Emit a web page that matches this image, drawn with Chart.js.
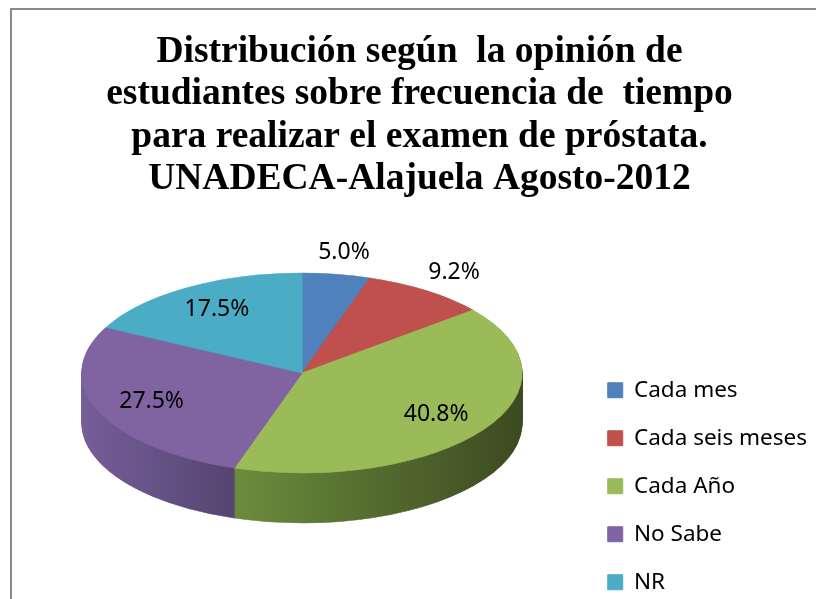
<!DOCTYPE html>
<html>
<head>
<meta charset="utf-8">
<script src="https://cdn.jsdelivr.net/npm/chart.js@4/dist/chart.umd.min.js"></script>
<style>
  html, body { margin: 0; padding: 0; background: #fff; }
  #wrap { position: relative; width: 816px; height: 599px; }
  #frame { position: absolute; left: 10px; top: 8px; right: 0; bottom: 0;
           border-left: 2px solid #898989; border-top: 2px solid #898989; }
  #pieChart { position: absolute; left: 0; top: 0; }
</style>
</head>
<body>
<div id="wrap">
  <div id="frame"></div>
  <canvas id="pieChart" width="816" height="599"></canvas>
</div>
<script>
// data (respondents, n = 120)
var categories = ['Cada mes', 'Cada seis meses', 'Cada Año', 'No Sabe', 'NR'];
var counts = [6, 11, 49, 33, 21];
var topColors = ['#4F81BD', '#C0504D', '#9BBB59', '#8064A2', '#4BACC6'];
// side wall shading, [left, right]
var sideColors = [['#3d6594', '#2e4c70'], ['#99403d', '#72302d'], ['#6c8c3c', '#3c4a21'],
                  ['#765e99', '#554470'], ['#3a8aa0', '#2b6778']];
var titleLines = ['Distribución según  la opinión de',
                  'estudiantes sobre frecuencia de  tiempo',
                  'para realizar el examen de próstata.',
                  'UNADECA-Alajuela Agosto-2012'];

var total = counts.reduce(function (a, b) { return a + b; }, 0);

// where the tilted pie ends up on the page
var CX = 302, CY = 373, RX = 220, RY = 100, DEPTH = 50;

function drawWith(arc, ctx, fill) {
    var saved = arc.options;
    arc.options = Object.assign({}, saved, { backgroundColor: fill, borderColor: fill });
    arc.draw(ctx);
    arc.options = saved;
}

function sideFill(ctx, arc, i) {
    var lo = Math.max(arc.startAngle, 0);
    var hi = Math.min(arc.endAngle, Math.PI);
    if (hi <= lo) return sideColors[i][1];
    var xl = arc.x + arc.outerRadius * Math.cos(hi);
    var xr = arc.x + arc.outerRadius * Math.cos(lo);
    var g = ctx.createLinearGradient(xl, 0, xr, 0);
    g.addColorStop(0, sideColors[i][0]);
    g.addColorStop(1, sideColors[i][1]);
    return g;
}

function toEllipse(ctx, arc, dy) {
    var sx = RX / arc.outerRadius, sy = RY / arc.outerRadius;
    ctx.translate(CX, CY + dy);
    ctx.scale(sx, sy);
    ctx.translate(-arc.x, -arc.y);
}

var pie3d = {
    id: 'pie3d',
    beforeDatasetsDraw: function (chart) {
        var arcs = chart.getDatasetMeta(0).data;
        var ctx = chart.ctx;
        var fills = arcs.map(function (arc, i) { return sideFill(ctx, arc, i); });
        for (var d = DEPTH; d >= 1; d--) {
            ctx.save();
            toEllipse(ctx, arcs[0], d);
            arcs.forEach(function (arc, i) { drawWith(arc, ctx, fills[i]); });
            ctx.restore();
        }
        ctx.save();
        toEllipse(ctx, arcs[0], 0);
    },
    afterDatasetsDraw: function (chart) {
        var ctx = chart.ctx;
        ctx.restore();
        var arcs = chart.getDatasetMeta(0).data;
        ctx.save();
        ctx.font = '23px "Noto Sans"';
        ctx.fillStyle = '#000';
        ctx.textAlign = 'center';
        ctx.textBaseline = 'middle';
        arcs.forEach(function (arc, i) {
            var pct = counts[i] / total * 100;
            var mid = (arc.startAngle + arc.endAngle) / 2;
            var f = pct < 10 ? 1.22 : 0.74;
            ctx.fillText(pct.toFixed(1) + '%', CX + RX * f * Math.cos(mid), CY + RY * f * Math.sin(mid));
        });
        ctx.restore();
    }
};

Chart.defaults.color = '#000';

var pieChart = new Chart(document.getElementById('pieChart').getContext('2d'), {
    type: 'pie',
    data: {
        labels: categories,
        datasets: [{
            data: counts,
            backgroundColor: topColors,
            borderColor: topColors,
            borderWidth: 1,
            clip: false
        }]
    },
    options: {
        responsive: false,
        animation: false,
        events: [],
        layout: { padding: { left: 22, right: -1, top: 0, bottom: -20 } },
        plugins: {
            title: {
                display: true,
                text: titleLines,
                color: '#000',
                font: { family: '"Liberation Serif", "Times New Roman", serif', size: 37.5, weight: 'bold', lineHeight: 1.13 },
                padding: { top: 31, bottom: 0 }
            },
            legend: {
                position: 'right',
                align: 'end',
                labels: {
                    boxWidth: 15,
                    boxHeight: 15,
                    padding: 25.5,
                    color: '#000',
                    font: { family: '"Noto Sans"', size: 22.5 }
                }
            },
            tooltip: { enabled: false }
        }
    },
    plugins: [pie3d]
});
</script>
</body>
</html>
